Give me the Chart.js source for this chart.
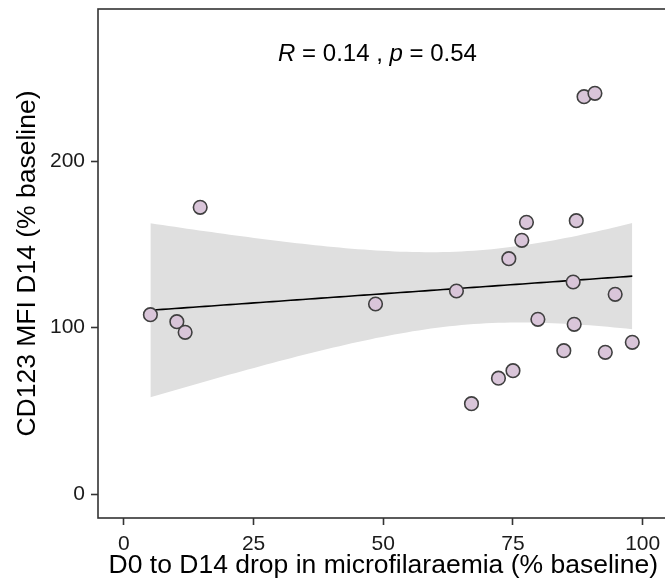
<!DOCTYPE html>
<html>
<head>
<meta charset="utf-8">
<script src="https://cdn.jsdelivr.net/npm/chart.js@4.4.1/dist/chart.umd.min.js"></script>
<style>
  html, body { margin: 0; padding: 0; background: #fff; overflow: hidden; }
  #wrap { width: 672px; height: 588px; }
</style>
</head>
<body>
<div id="wrap"><canvas id="corrChart" width="672" height="588"></canvas></div>
<script>
// D0 -> D14 drop in microfilaraemia vs CD123 MFI at D14 (both % of baseline)
const dropPct  = [5.1, 10.2, 11.8, 14.7, 48.5, 64.1, 67.0, 72.2, 74.2, 75.0, 76.7,
                  77.6, 79.8, 84.8, 86.6, 86.8, 87.2, 88.7, 90.8, 92.8, 94.7, 98.0];
const cd123Mfi = [107.8, 103.6, 97.2, 172.2, 114.2, 122.0, 54.4, 69.7, 141.4, 74.2, 152.4,
                  163.2, 105.0, 86.2, 127.4, 102.0, 164.2, 238.6, 240.6, 85.2, 120.0, 91.2];

const xTicks = [0, 25, 50, 75, 100];
const yTicks = [0, 100, 200];

const corrR = '0.14';
const corrP = '0.54';

const xTitle = 'D0 to D14 drop in microfilaraemia (% baseline)';
const yTitle = 'CD123 MFI D14 (% baseline)';

// linear fit + 95% confidence band, same as geom_smooth(method = "lm")
const T_975_DF20 = 2.086;
function lmFit(xs, ys, nGrid) {
  const n = xs.length;
  const mx = xs.reduce((a, b) => a + b, 0) / n;
  const my = ys.reduce((a, b) => a + b, 0) / n;
  let sxx = 0, sxy = 0;
  xs.forEach((x, i) => { sxx += (x - mx) ** 2; sxy += (x - mx) * (ys[i] - my); });
  const slope = sxy / sxx;
  const icpt = my - slope * mx;
  let sse = 0;
  xs.forEach((x, i) => { sse += (ys[i] - (icpt + slope * x)) ** 2; });
  const se = Math.sqrt(sse / (n - 2));
  const lo = Math.min(...xs), hi = Math.max(...xs);
  const fit = [], upper = [], lower = [];
  for (let k = 0; k < nGrid; k++) {
    const x = lo + (hi - lo) * k / (nGrid - 1);
    const yhat = icpt + slope * x;
    const half = T_975_DF20 * se * Math.sqrt(1 / n + (x - mx) ** 2 / sxx);
    fit.push({ x, y: yhat });
    upper.push({ x, y: yhat + half });
    lower.push({ x, y: yhat - half });
  }
  return { fit, upper, lower };
}

const model = lmFit(dropPct, cd123Mfi, 80);
const points = dropPct.map((x, i) => ({ x, y: cd123Mfi[i] }));

const FONT = "'Liberation Sans', Arial, Helvetica, sans-serif";
const inkColor = '#333333';

// panel frame drawn over the plot area (right side runs past the page edge)
const panelFrame = {
  id: 'panelFrame',
  afterDraw(chart) {
    const { ctx, chartArea: a } = chart;
    ctx.save();
    ctx.strokeStyle = inkColor;
    ctx.lineWidth = 1.6;
    ctx.strokeRect(a.left, a.top, a.right - a.left, a.bottom - a.top);
    ctx.restore();
  }
};

// "R = 0.14 , p = 0.54" label with italic R and p
const corrLabel = {
  id: 'corrLabel',
  afterDraw(chart) {
    const { ctx } = chart;
    const parts = [
      { t: 'R', it: true }, { t: ' = ' + corrR + ' , ' }, { t: 'p', it: true }, { t: ' = ' + corrP }
    ];
    const size = 24;
    ctx.save();
    ctx.fillStyle = '#000';
    ctx.textBaseline = 'alphabetic';
    let total = 0;
    parts.forEach(p => {
      ctx.font = (p.it ? 'italic ' : '') + size + 'px ' + FONT;
      p.w = ctx.measureText(p.t).width;
      total += p.w;
    });
    const cx = 377.5, baseY = 61;
    let x = cx - total / 2;
    parts.forEach(p => {
      ctx.font = (p.it ? 'italic ' : '') + size + 'px ' + FONT;
      ctx.fillText(p.t, x, baseY);
      x += p.w;
    });
    ctx.restore();
  }
};

// keep the plot area fixed: no extra room for the end tick labels
function noLabelPadding(s) {
  s.paddingTop = 0;
  s.paddingBottom = 0;
  s.paddingLeft = 0;
  s.paddingRight = 0;
}

new Chart(document.getElementById('corrChart'), {
  data: {
    datasets: [
      {
        type: 'scatter',
        data: points,
        pointRadius: 6.8,
        pointBorderWidth: 1.6,
        pointBackgroundColor: '#D9C5D9',
        pointBorderColor: '#404040',
        order: 0
      },
      {
        type: 'line',
        data: model.fit,
        borderColor: '#000',
        borderWidth: 1.6,
        pointRadius: 0,
        fill: false,
        order: 1
      },
      {
        type: 'line',
        data: model.upper,
        borderWidth: 0,
        borderColor: 'rgba(0,0,0,0)',
        backgroundColor: '#DFDFDF',
        pointRadius: 0,
        fill: '+1',
        order: 2
      },
      {
        type: 'line',
        data: model.lower,
        borderWidth: 0,
        borderColor: 'rgba(0,0,0,0)',
        pointRadius: 0,
        fill: false,
        order: 3
      }
    ]
  },
  options: {
    responsive: false,
    animation: false,
    devicePixelRatio: 1,
    layout: { autoPadding: false, padding: { top: 9, right: 3.4, left: 0, bottom: 0 } },
    plugins: {
      legend: { display: false },
      tooltip: { enabled: false }
    },
    scales: {
      x: {
        type: 'linear',
        min: -5,
        max: 105,
        afterBuildTicks: s => { s.ticks = xTicks.map(v => ({ value: v })); },
        afterFit: s => { s.height = 70; noLabelPadding(s); },
        border: { display: false },
        grid: { display: true, drawOnChartArea: false, drawTicks: true, tickLength: 7, tickWidth: 1.6, tickColor: inkColor },
        ticks: { font: { family: FONT, size: 21 }, color: '#1a1a1a', padding: 7, maxRotation: 0 },
        title: { display: true, text: xTitle, font: { family: FONT, size: 26.5 }, color: '#000', padding: { top: 0, bottom: 6 } }
      },
      y: {
        type: 'linear',
        min: -14.2,
        max: 291.2,
        afterBuildTicks: s => { s.ticks = yTicks.map(v => ({ value: v })); },
        afterFit: s => { s.width = 98; noLabelPadding(s); },
        border: { display: false },
        grid: { display: true, drawOnChartArea: false, drawTicks: true, tickLength: 7, tickWidth: 1.6, tickColor: inkColor },
        ticks: { font: { family: FONT, size: 21 }, color: '#1a1a1a', padding: 6 },
        title: { display: true, text: yTitle, font: { family: FONT, size: 26.5 }, color: '#000', padding: { top: 12, bottom: 0 } }
      }
    }
  },
  plugins: [panelFrame, corrLabel]
});
</script>
</body>
</html>
